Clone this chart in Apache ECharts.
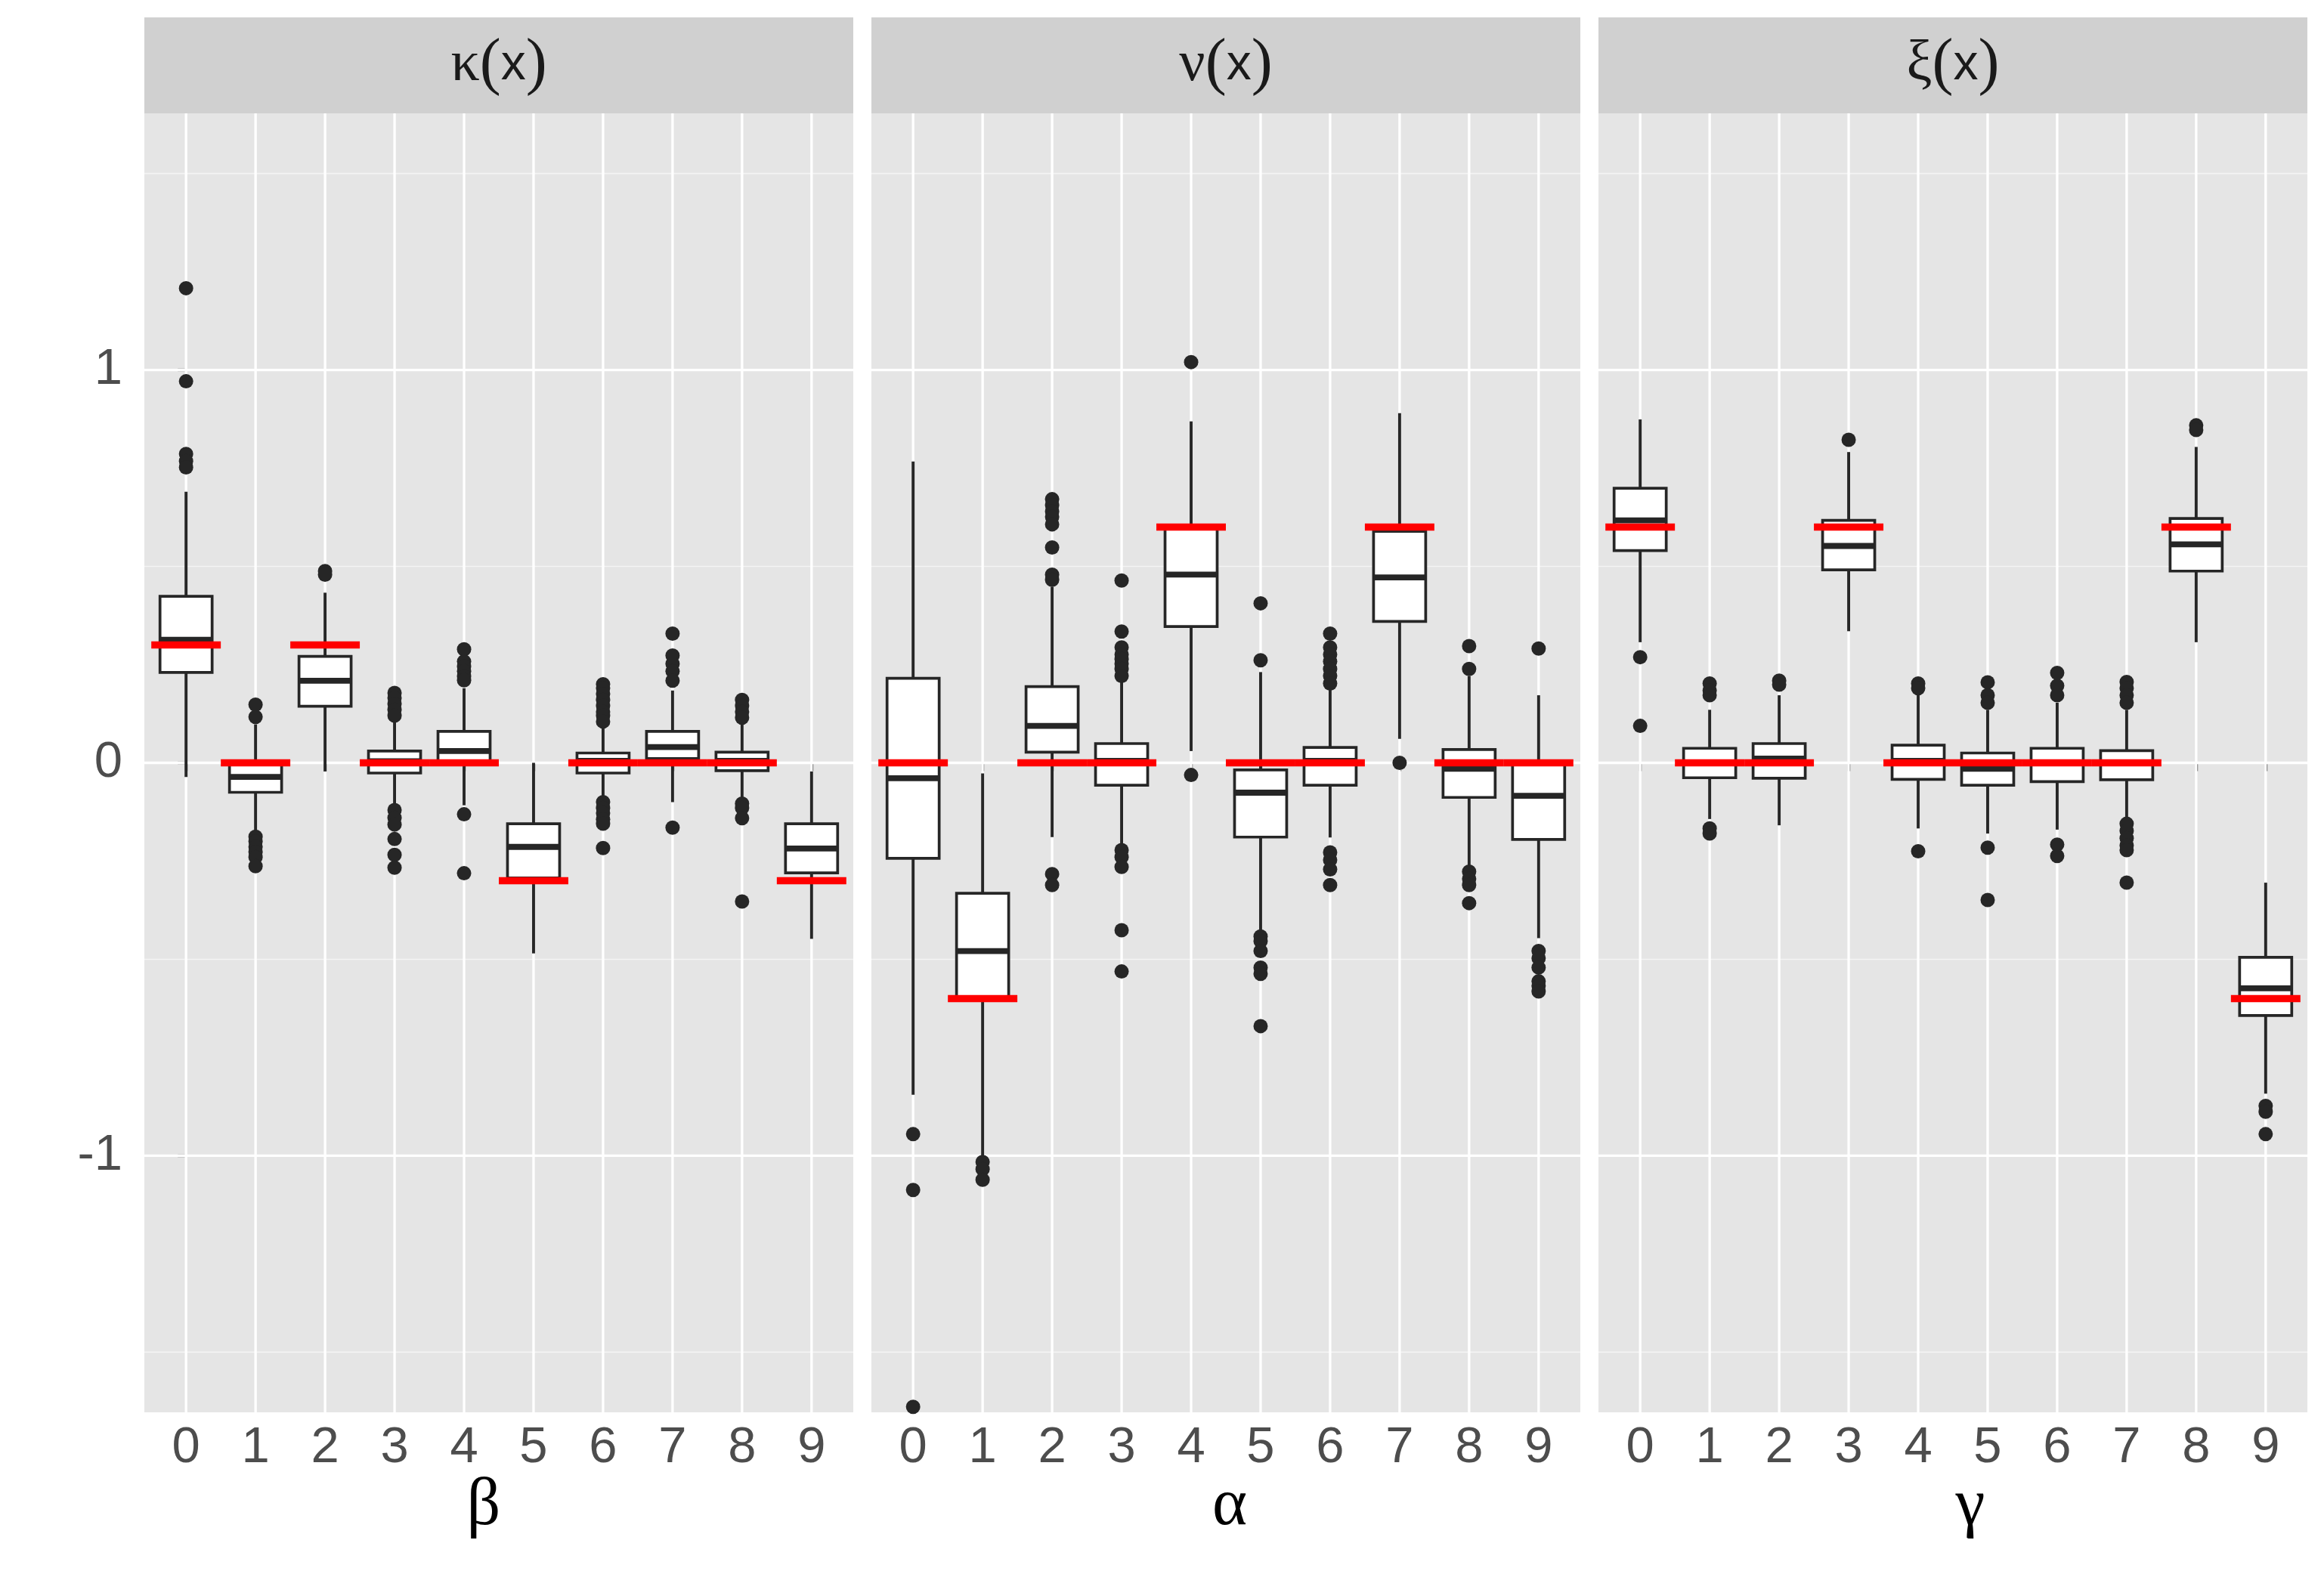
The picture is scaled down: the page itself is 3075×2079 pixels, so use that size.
<!DOCTYPE html>
<html><head><meta charset="utf-8">
<script src="https://cdn.jsdelivr.net/npm/echarts@6/dist/echarts.min.js"></script>
<style>html,body{margin:0;padding:0;background:#fff}#c{width:3075px;height:2079px}</style>
</head><body><div id="c"></div>
<script>
// ---------- data ----------
const categories = ['0','1','2','3','4','5','6','7','8','9'];
const yTickValues = [-1, 0, 1];
const yMinorValues = [-1.5, -0.5, 0.5, 1.5];
const panelTitles = ['κ', 'ν', 'ξ'];
const axisTitles = ['β', 'α', 'γ'];

// box stats: [lower whisker, Q1, median, Q3, upper whisker]
const kappaBox = [
  [-0.036, 0.230, 0.313, 0.424, 0.690],
  [-0.180, -0.075, -0.036, 0.003, 0.098],
  [-0.022, 0.144, 0.209, 0.271, 0.433],
  [-0.108, -0.026, 0.004, 0.030, 0.110],
  [-0.108, 0.000, 0.030, 0.080, 0.190],
  [-0.485, -0.293, -0.214, -0.155, 0.000],
  [-0.088, -0.026, 0.005, 0.025, 0.093],
  [-0.100, 0.011, 0.040, 0.080, 0.184],
  [-0.089, -0.020, 0.005, 0.027, 0.105],
  [-0.448, -0.280, -0.218, -0.155, -0.022]
];
const kappaOutliers = [
  [1.208, 0.971, 0.786, 0.768, 0.752],
  [0.148, 0.117, -0.188, -0.200, -0.214, -0.227, -0.240, -0.263],
  [0.488, 0.479],
  [0.178, 0.165, 0.150, 0.135, 0.120, -0.120, -0.140, -0.157, -0.194, -0.234, -0.267],
  [0.289, 0.258, 0.245, 0.233, 0.220, 0.210, -0.131, -0.281],
  [],
  [0.200, 0.190, 0.175, 0.160, 0.145, 0.130, 0.120, 0.105, -0.100, -0.115, -0.128, -0.144, -0.155, -0.217],
  [0.329, 0.273, 0.252, 0.233, 0.209, -0.165],
  [0.160, 0.145, 0.130, 0.115, -0.104, -0.115, -0.141, -0.353],
  []
];
const kappaTruth = [0.3, 0, 0.3, 0, 0, -0.3, 0, 0, 0, -0.3];

const nuBox = [
  [-0.845, -0.243, -0.039, 0.215, 0.767],
  [-1.000, -0.600, -0.479, -0.332, -0.027],
  [-0.189, 0.027, 0.094, 0.194, 0.448],
  [-0.210, -0.057, 0.005, 0.049, 0.209],
  [0.030, 0.347, 0.479, 0.595, 0.869],
  [-0.433, -0.189, -0.076, -0.018, 0.231],
  [-0.190, -0.057, 0.005, 0.039, 0.190],
  [0.061, 0.360, 0.472, 0.589, 0.890],
  [-0.265, -0.088, -0.015, 0.034, 0.221],
  [-0.446, -0.195, -0.084, -0.002, 0.172]
];
const nuOutliers = [
  [-0.945, -1.087, -1.639],
  [-1.016, -1.034, -1.061],
  [0.671, 0.656, 0.640, 0.626, 0.607, 0.548, 0.479, 0.466, -0.283, -0.311],
  [0.464, 0.334, 0.294, 0.276, 0.264, 0.252, 0.239, 0.221, -0.222, -0.240, -0.265, -0.426, -0.531],
  [1.020, -0.031],
  [0.406, 0.261, -0.442, -0.454, -0.479, -0.521, -0.537, -0.670],
  [0.329, 0.294, 0.276, 0.258, 0.239, 0.221, 0.202, -0.228, -0.247, -0.271, -0.311],
  [0.000],
  [0.297, 0.239, -0.277, -0.295, -0.311, -0.357],
  [0.291, -0.479, -0.497, -0.521, -0.556, -0.568, -0.582]
];
const nuTruth = [0, -0.6, 0, 0, 0.6, 0, 0, 0.6, 0, 0];

const xiBox = [
  [0.307, 0.540, 0.617, 0.699, 0.874],
  [-0.143, -0.038, 0.000, 0.037, 0.135],
  [-0.159, -0.039, 0.011, 0.049, 0.172],
  [0.335, 0.491, 0.552, 0.617, 0.791],
  [-0.167, -0.042, 0.005, 0.045, 0.178],
  [-0.180, -0.057, -0.015, 0.025, 0.135],
  [-0.170, -0.048, 0.000, 0.037, 0.153],
  [-0.143, -0.043, 0.000, 0.031, 0.135],
  [0.307, 0.488, 0.556, 0.622, 0.804],
  [-0.842, -0.643, -0.574, -0.495, -0.305]
];
const xiOutliers = [
  [0.269, 0.094],
  [0.202, 0.184, 0.172, -0.167, -0.180],
  [0.209, 0.199],
  [0.822],
  [0.202, 0.190, -0.225],
  [0.205, 0.172, 0.153, -0.216, -0.349],
  [0.229, 0.196, 0.172, -0.208, -0.237],
  [0.206, 0.190, 0.172, 0.153, -0.155, -0.173, -0.192, -0.210, -0.222, -0.305],
  [0.859, 0.847],
  [-0.873, -0.888, -0.945]
];
const xiTruth = [0.6, 0, 0, 0.6, 0, 0, 0, 0, 0.6, -0.6];

// ---------- layout / style ----------
const Y_MIN = -1.653, Y_MAX = 1.653;
const PANEL_LEFT = [191, 1153, 2115];
const PANEL_W = 938, PANEL_TOP = 150, PANEL_H = 1719;
const STRIP_TOP = 23, STRIP_H = 127;
const AXIS_TITLE_X = [640, 1627, 2607];
const AXIS_TITLE_Y = 1994;
const BOX_W = 0.75;
const LINE_COL = '#262626';

const panels = [
  {box: kappaBox, out: kappaOutliers, truth: kappaTruth},
  {box: nuBox, out: nuOutliers, truth: nuTruth},
  {box: xiBox, out: xiOutliers, truth: xiTruth}
];
const catIdx = categories.map((c, i) => i);

function renderVGrid(params, api) {
  const x = api.value(0);
  const a = api.coord([x, Y_MIN]), b = api.coord([x, Y_MAX]);
  return {type: 'line', shape: {x1: a[0], y1: a[1], x2: b[0], y2: b[1]},
    style: {stroke: '#ffffff', lineWidth: 3.3}};
}
function renderHGrid(params, api) {
  const y = api.value(1), w = api.value(2);
  const a = api.coord([-0.6, y]), b = api.coord([9.6, y]);
  return {type: 'line', shape: {x1: a[0], y1: a[1], x2: b[0], y2: b[1]},
    style: {stroke: w > 2 ? '#ffffff' : '#f4f4f4', lineWidth: w}};
}
function renderBox(params, api) {
  const x = api.value(0);
  const pLo = api.coord([x, api.value(1)]);
  const pQ1 = api.coord([x, api.value(2)]);
  const pMed = api.coord([x, api.value(3)]);
  const pQ3 = api.coord([x, api.value(4)]);
  const pHi = api.coord([x, api.value(5)]);
  const half = api.size([BOX_W, 0])[0] / 2;
  const st = {stroke: LINE_COL, lineWidth: 3.9};
  return {type: 'group', children: [
    {type: 'line', shape: {x1: pHi[0], y1: pHi[1], x2: pQ3[0], y2: pQ3[1]}, style: st},
    {type: 'line', shape: {x1: pQ1[0], y1: pQ1[1], x2: pLo[0], y2: pLo[1]}, style: st},
    {type: 'rect', shape: {x: pQ3[0] - half, y: pQ3[1], width: 2 * half, height: pQ1[1] - pQ3[1]},
      style: {fill: '#ffffff', stroke: LINE_COL, lineWidth: 3.7}},
    {type: 'line', shape: {x1: pMed[0] - half, y1: pMed[1], x2: pMed[0] + half, y2: pMed[1]},
      style: {stroke: LINE_COL, lineWidth: 7.8}}
  ]};
}
function renderTruth(params, api) {
  const x = api.value(0), v = api.value(1);
  const a = api.coord([x - 0.5, v]), b = api.coord([x + 0.5, v]);
  return {type: 'line', shape: {x1: a[0], y1: a[1], x2: b[0], y2: b[1]},
    style: {stroke: '#ff0000', lineWidth: 9.5}};
}

const grids = [], xAxes = [], yAxes = [], series = [], graphics = [];
panels.forEach((p, i) => {
  const L = PANEL_LEFT[i];
  grids.push({left: L, top: PANEL_TOP, width: PANEL_W, height: PANEL_H,
    show: true, backgroundColor: '#e5e5e5', borderWidth: 0});
  xAxes.push({
    gridIndex: i, type: 'value', min: -0.6, max: 9.6,
    axisLine: {show: false},
    axisTick: {show: true, customValues: catIdx, length: 11, lineStyle: {color: '#333333', width: 3.3}},
    axisLabel: {customValues: catIdx, formatter: v => categories[Math.round(v)],
      fontFamily: 'Liberation Sans', fontSize: 67, color: '#4d4d4d', margin: 14},
    splitLine: {show: false}
  });
  yAxes.push({
    gridIndex: i, type: 'value', min: Y_MIN, max: Y_MAX,
    axisLine: {show: false},
    axisTick: {show: i === 0, customValues: yTickValues, length: 11, lineStyle: {color: '#333333', width: 3.3}},
    axisLabel: {show: i === 0, customValues: yTickValues, formatter: v => String(Math.round(v)),
      fontFamily: 'Liberation Sans', fontSize: 67, color: '#4d4d4d', margin: 29},
    splitLine: {show: false}
  });
  const hgrid = yMinorValues.map(v => [0, v, 1.7]).concat(yTickValues.map(v => [0, v, 3.3]));
  series.push({type: 'custom', xAxisIndex: i, yAxisIndex: i, z: 1, silent: true, clip: true,
    renderItem: renderHGrid, data: hgrid});
  series.push({type: 'custom', xAxisIndex: i, yAxisIndex: i, z: 1, silent: true, clip: true,
    renderItem: renderVGrid, data: catIdx.map(c => [c, 0])});
  series.push({type: 'custom', xAxisIndex: i, yAxisIndex: i, z: 2, silent: true,
    renderItem: renderBox, data: p.box.map((s, c) => [c].concat(s))});
  const pts = [];
  p.out.forEach((arr, c) => arr.forEach(v => pts.push([c, v])));
  series.push({type: 'scatter', xAxisIndex: i, yAxisIndex: i, z: 3, silent: true,
    symbol: 'circle', symbolSize: 19, itemStyle: {color: '#262626', opacity: 1}, data: pts});
  series.push({type: 'custom', xAxisIndex: i, yAxisIndex: i, z: 4, silent: true,
    renderItem: renderTruth, data: p.truth.map((v, c) => [c, v])});

  graphics.push({type: 'rect', shape: {x: L, y: STRIP_TOP, width: PANEL_W, height: STRIP_H},
    style: {fill: '#d0d0d0'}, silent: true});
  graphics.push({type: 'text', x: L + PANEL_W / 2, y: STRIP_TOP + STRIP_H / 2, silent: true,
    style: {
      text: '{g|' + panelTitles[i] + '}{p|(}{s|x}{p|)}',
      align: 'center', verticalAlign: 'middle',
      rich: {
        g: {fontFamily: 'Liberation Serif', fontSize: 76, fill: '#1a1a1a'},
        p: {fontFamily: 'Liberation Serif', fontSize: 84, fill: '#1a1a1a'},
        s: {fontFamily: 'Liberation Sans', fontSize: 66, fill: '#1a1a1a'}
      }
    }});
  graphics.push({type: 'text', x: AXIS_TITLE_X[i], y: AXIS_TITLE_Y, silent: true,
    style: {text: axisTitles[i], align: 'center', verticalAlign: 'middle',
      fontFamily: 'Liberation Serif', fontSize: 88, fill: '#000000'}});
});

const chart = echarts.init(document.getElementById('c'), null, {renderer: 'canvas'});
chart.setOption({
  animation: false,
  backgroundColor: '#ffffff',
  grid: grids, xAxis: xAxes, yAxis: yAxes, series: series,
  graphic: graphics
});
</script></body></html>
